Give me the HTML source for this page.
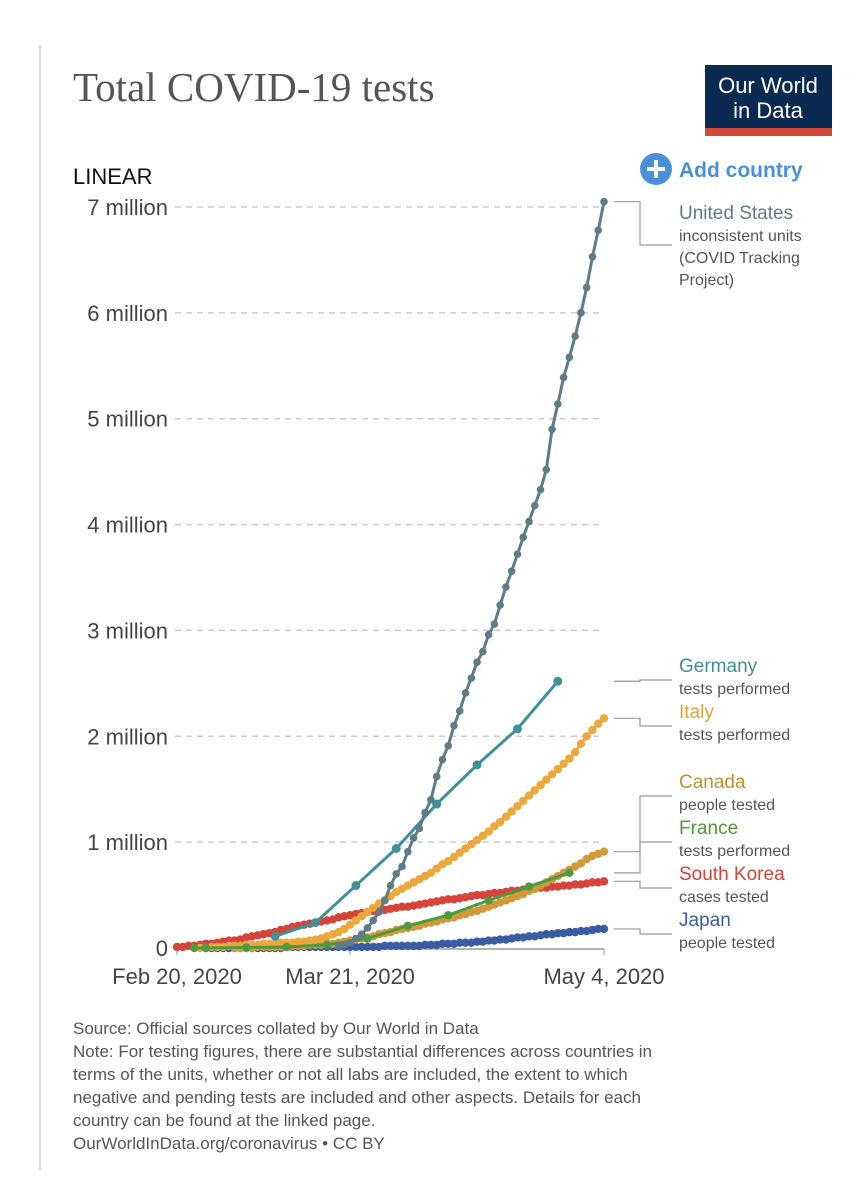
<!DOCTYPE html>
<html><head><meta charset="utf-8"><style>
body{margin:0;background:#fff;width:866px;height:1178px;overflow:hidden;font-family:"Liberation Sans",sans-serif}
svg{position:absolute;left:0;top:0}
</style></head><body>
<svg width="866" height="1178">
<line x1="40" y1="45" x2="40" y2="1170" stroke="#ddd" stroke-width="2"/>
<text x="73" y="101" font-family="Liberation Serif" font-size="41" fill="#555">Total COVID-19 tests</text>
<g><rect x="705" y="65" width="127" height="71" fill="#0b2a52"/><rect x="705" y="128" width="127" height="8" fill="#d44a3a"/>
<text x="768" y="93" text-anchor="middle" fill="#fff" font-size="22">Our World</text><text x="768" y="118" text-anchor="middle" fill="#fff" font-size="22">in Data</text></g>
<g><circle cx="656" cy="169" r="16" fill="#4a90d9"/><path d="M656 160v18M647 169h18" stroke="#fff" stroke-width="4"/>
<text x="679" y="177" fill="#4a90d9" font-size="21" font-weight="bold">Add country</text></g>
<text x="73" y="184" font-size="22" fill="#111">LINEAR</text>
<g id="grid"></g><g id="series"></g><g id="labels"></g>
<g font-size="17" fill="#555">
<text x="73" y="1034">Source: Official sources collated by Our World in Data</text>
<text x="73" y="1057">Note: For testing figures, there are substantial differences across countries in</text>
<text x="73" y="1080">terms of the units, whether or not all labs are included, the extent to which</text>
<text x="73" y="1103">negative and pending tests are included and other aspects. Details for each</text>
<text x="73" y="1126">country can be found at the linked page.</text>
<text x="73" y="1149">OurWorldInData.org/coronavirus • CC BY</text></g>
</svg>
<script>
const yTicks=[0,1,2,3,4,5,6,7];
const yTickLabels=["0","1 million","2 million","3 million","4 million","5 million","6 million","7 million"];
const xTicks=[0,30,74];
const xTickLabels=["Feb 20, 2020","Mar 21, 2020","May 4, 2020"];
const usStart=28;
const usVals=[0.02,0.03,0.05,0.09,0.13,0.19,0.26,0.34,0.45,0.59,0.70,0.77,0.91,1.04,1.13,1.28,1.40,1.62,1.78,1.91,2.10,2.24,2.41,2.55,2.70,2.80,2.96,3.06,3.24,3.41,3.56,3.72,3.88,4.03,4.18,4.33,4.52,4.90,5.14,5.39,5.58,5.78,6.00,6.24,6.53,6.78,7.05];
const deDays=[17,24,31,38,45,52,59,66];
const deVals=[0.11,0.24,0.59,0.94,1.36,1.73,2.07,2.52];
const itStart=4;
const itVals=[0.00,0.00,0.01,0.01,0.01,0.02,0.02,0.02,0.03,0.03,0.03,0.04,0.04,0.04,0.05,0.05,0.05,0.06,0.06,0.07,0.08,0.09,0.11,0.13,0.15,0.18,0.22,0.26,0.30,0.34,0.38,0.42,0.45,0.49,0.53,0.56,0.59,0.62,0.65,0.68,0.71,0.75,0.79,0.82,0.86,0.90,0.94,0.98,1.02,1.06,1.10,1.15,1.19,1.24,1.29,1.34,1.39,1.44,1.49,1.54,1.59,1.64,1.69,1.74,1.79,1.85,1.93,2.00,2.06,2.12,2.17];
const caStart=10;
const caVals=[0.00,0.00,0.00,0.00,0.01,0.01,0.01,0.01,0.01,0.02,0.02,0.02,0.02,0.03,0.03,0.03,0.04,0.04,0.05,0.06,0.07,0.08,0.09,0.10,0.11,0.13,0.14,0.15,0.17,0.18,0.19,0.20,0.21,0.23,0.24,0.25,0.27,0.28,0.29,0.31,0.32,0.34,0.35,0.37,0.39,0.41,0.43,0.45,0.47,0.49,0.51,0.54,0.56,0.59,0.62,0.65,0.68,0.71,0.74,0.77,0.80,0.84,0.87,0.89,0.91];
const frDays=[3,5,12,19,26,33,40,47,54,61,68];
const frVals=[0,0,0.005,0.01,0.03,0.09,0.21,0.31,0.45,0.58,0.71];
const krStart=0;
const krVals=[0.01,0.01,0.02,0.02,0.03,0.04,0.04,0.05,0.06,0.07,0.07,0.08,0.10,0.11,0.12,0.13,0.14,0.15,0.17,0.18,0.20,0.21,0.22,0.23,0.24,0.25,0.26,0.27,0.29,0.30,0.31,0.32,0.33,0.34,0.35,0.36,0.36,0.37,0.38,0.39,0.39,0.40,0.41,0.42,0.43,0.44,0.45,0.46,0.46,0.47,0.48,0.49,0.50,0.50,0.51,0.52,0.52,0.53,0.54,0.54,0.55,0.56,0.56,0.57,0.57,0.58,0.58,0.59,0.59,0.60,0.60,0.61,0.62,0.62,0.63];
const jpStart=5;
const jpVals=[0,0,0,0,0,0,0,0,0,0,0.00,0.00,0.00,0.00,0.01,0.01,0.01,0.01,0.01,0.01,0.01,0.01,0.01,0.01,0.01,0.01,0.01,0.01,0.01,0.01,0.01,0.02,0.02,0.02,0.02,0.02,0.02,0.02,0.03,0.03,0.03,0.04,0.04,0.04,0.05,0.05,0.05,0.06,0.06,0.07,0.07,0.08,0.08,0.09,0.10,0.10,0.11,0.11,0.12,0.13,0.13,0.14,0.14,0.15,0.15,0.16,0.16,0.17,0.18,0.18];

const NS="http://www.w3.org/2000/svg";
const X=d=>177+d*(604-177)/74;
const Y=v=>948-v*(948-207)/7;
function el(t,a,p){const e=document.createElementNS(NS,t);for(const k in a)e.setAttribute(k,a[k]);p.appendChild(e);return e;}
const grid=document.getElementById('grid');
yTicks.forEach((t,i)=>{
  if(t>0){const g=el('line',{x1:175,x2:604,y1:Y(t),y2:Y(t),stroke:'#ccc','stroke-dasharray':'6,5','stroke-width':1.5},grid);
  
  }
  const tx=el('text',{x:168,y:Y(t)+8,'text-anchor':'end','font-size':22,fill:'#444'},grid);tx.textContent=yTickLabels[i];
  
  
});
const ax=el('line',{x1:177,x2:604,y1:949,y2:949,stroke:'#999','stroke-width':1.5},grid);


xTicks.forEach((d,i)=>{
  el('line',{x1:X(d),x2:X(d),y1:949,y2:955,stroke:'#999'},grid);
  const tx=el('text',{x:X(d),y:984,'text-anchor':'middle','font-size':22,fill:'#444'},grid);tx.textContent=xTickLabels[i];
  
  
});
const S=document.getElementById('series');
function draw(name,days,vals,color,r){
  const g=el('g',{},S);
  
  
  el('polyline',{points:vals.map((v,i)=>X(days[i])+','+Y(v)).join(' '),fill:'none',stroke:color,'stroke-width':3},g);
  vals.forEach((v,i)=>el('circle',{cx:X(days[i]),cy:Y(v),r:r,fill:color},g));
}
const rng=(s,n)=>Array.from({length:n},(_,i)=>s+i);
draw('japan',rng(jpStart,jpVals.length),jpVals,'#3a5ca3',4.2);
draw('south-korea',rng(krStart,krVals.length),krVals,'#d5433a',4.2);
draw('canada',rng(caStart,caVals.length),caVals,'#d09a3a',4.2);
draw('italy',rng(itStart,itVals.length),itVals,'#eba83c',4.2);
draw('france',frDays,frVals,'#4f9a3e',4.2);
draw('germany',deDays,deVals,'#3f9197',4.5);
draw('united-states',rng(usStart,usVals.length),usVals,'#5d7b88',3.8);
const L=document.getElementById('labels');
const labs=[
 ['united-states','United States',['inconsistent units','(COVID Tracking','Project)'],'#5d7b88',7.05,212],
 ['germany','Germany',['tests performed'],'#3f9197',2.52,665],
 ['italy','Italy',['tests performed'],'#e0a43c',2.17,711],
 ['canada','Canada',['people tested'],'#c4902f',0.91,781],
 ['france','France',['tests performed'],'#4f9a3e',0.71,827],
 ['south-korea','South Korea',['cases tested'],'#d5433a',0.63,873],
 ['japan','Japan',['people tested'],'#3a5ca3',0.18,919]];
labs.forEach(l=>{
  const g=el('g',{},L);
  
  
  const ey=Y(l[4]), ly=l[5]+(l[2].length>1?33:15);
  el('polyline',{points:`614,${ey} 640,${ey} 640,${ly} 672,${ly}`,fill:'none',stroke:'#999','stroke-width':1.2},g);
  const t=el('text',{x:679,y:l[5]+7,'font-size':19,fill:l[3]},g);t.textContent=l[1];
  l[2].forEach((s,i)=>{const u=el('text',{x:679,y:l[5]+29+i*22,'font-size':16,fill:'#555'},g);u.textContent=s;});
});
</script>
</body></html>
